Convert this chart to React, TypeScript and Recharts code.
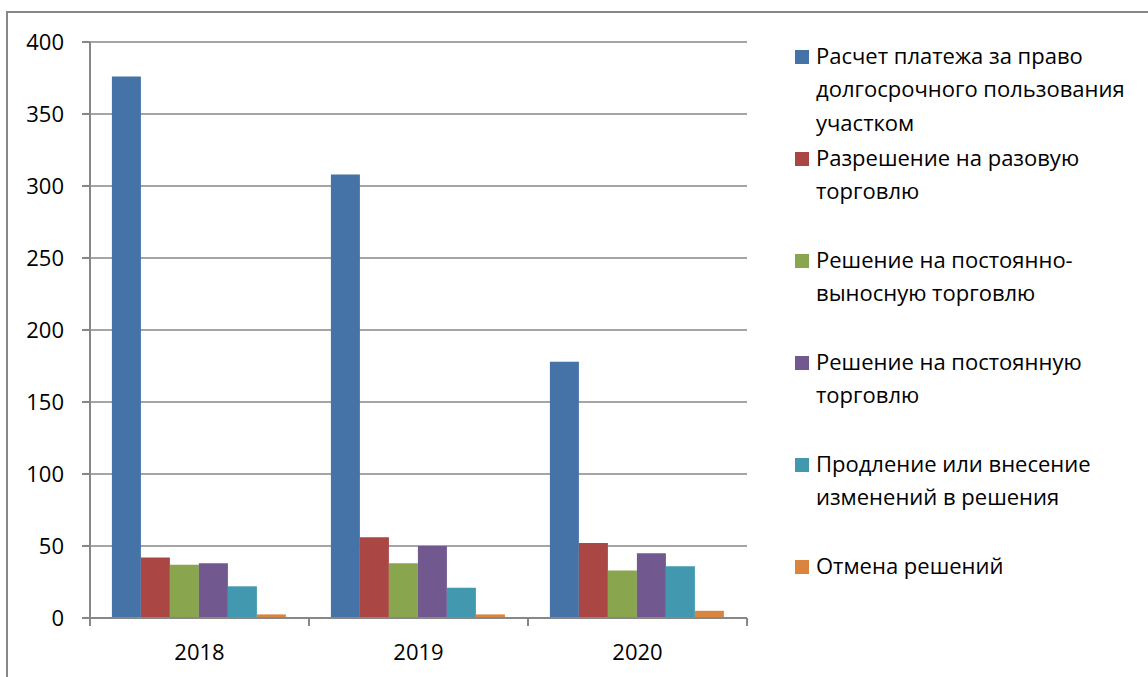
import { Bar, BarChart, CartesianGrid, XAxis, YAxis } from "recharts";

const years = ["2018", "2019", "2020"];

const seriesNames = [
  "Расчет платежа за право долгосрочного пользования участком",
  "Разрешение на разовую торговлю",
  "Решение на постоянно-выносную торговлю",
  "Решение на постоянную торговлю",
  "Продление или внесение изменений в решения",
  "Отмена решений",
];

const paymentCalc = [376, 308, 178];
const oneTimeTrade = [42, 56, 52];
const mobileTrade = [37, 38, 33];
const permanentTrade = [38, 50, 45];
const extensions = [22, 21, 36];
const cancellations = [2.5, 2.5, 5];

const seriesValues = [paymentCalc, oneTimeTrade, mobileTrade, permanentTrade, extensions, cancellations];
const colors = ["#4572A7", "#AA4643", "#89A54E", "#71588F", "#4198AF", "#DB843D"];
const yTicks = [0, 50, 100, 150, 200, 250, 300, 350, 400];

const data = years.map((year, i) => {
  const row: Record<string, string | number> = { year };
  seriesValues.forEach((vals, s) => {
    row[`s${s}`] = vals[i];
  });
  return row;
});

const FONT = "'Open Sans', sans-serif";
const GRID = "#878787";
const TICK_SIZE = 8;
const TICK_MARGIN = 18;

// Excel-style category axis: tick marks sit between the categories, not under them.
function YearTick(props: any) {
  const { x, y, payload, index, visibleTicksCount } = props;
  const axisY = y - TICK_SIZE - TICK_MARGIN;
  const half = payload?.offset ?? 0;
  const mark = (cx: number) => (
    <line x1={cx} x2={cx} y1={axisY} y2={axisY + TICK_SIZE} stroke={GRID} strokeWidth={2} />
  );
  return (
    <g>
      {mark(x - half)}
      {index === visibleTicksCount - 1 && mark(x + half)}
      <text x={x} y={y} dy="0.71em" textAnchor="middle" fill="#000" fontSize={22} fontFamily={FONT}>
        {payload.value}
      </text>
    </g>
  );
}

export default function App() {
  return (
    <div
      style={{
        position: "absolute",
        left: 0,
        top: 0,
        width: 1148,
        height: 677,
        overflow: "hidden",
        background: "#fff",
        fontFamily: FONT,
      }}
    >
      <div
        style={{
          position: "absolute",
          left: 6,
          top: 11,
          width: 1300,
          height: 800,
          borderLeft: `2px solid ${GRID}`,
          borderTop: `2px solid ${GRID}`,
        }}
      />
      <div style={{ position: "absolute", left: 0, top: 0 }}>
        <BarChart
          width={1148}
          height={677}
          data={data}
          margin={{ top: 42, right: 401, left: 10, bottom: 29 }}
          barCategoryGap="10%"
          barGap={0}
        >
          <CartesianGrid vertical={false} stroke={GRID} strokeWidth={1.5} />
          <XAxis
            dataKey="year"
            tickLine={false}
            axisLine={{ stroke: GRID, strokeWidth: 2 }}
            tick={YearTick}
            tickSize={TICK_SIZE}
            tickMargin={TICK_MARGIN}
            height={30}
          />
          <YAxis
            domain={[0, 400]}
            ticks={yTicks}
            width={80}
            tickSize={8}
            tickMargin={18}
            axisLine={{ stroke: GRID, strokeWidth: 2 }}
            tickLine={{ stroke: GRID, strokeWidth: 2 }}
            tick={{ fill: "#000", fontSize: 22, fontFamily: FONT }}
          />
          {seriesNames.map((name, s) => (
            <Bar
              key={name}
              dataKey={`s${s}`}
              name={name}
              fill={colors[s]}
              isAnimationActive={false}
            />
          ))}
        </BarChart>
      </div>
      {seriesNames.map((name, s) => (
        <div
          key={name}
          style={{
            position: "absolute",
            left: 795,
            top: 38.5 + s * 102,
            width: 345,
            display: "flex",
            alignItems: "flex-start",
          }}
        >
          <div
            style={{
              width: 14,
              height: 14,
              marginTop: 11,
              background: colors[s],
              flexShrink: 0,
            }}
          />
          <div
            style={{
              marginLeft: 7,
              fontSize: 22,
              lineHeight: "33.5px",
              color: "#000",
            }}
          >
            {name}
          </div>
        </div>
      ))}
    </div>
  );
}
